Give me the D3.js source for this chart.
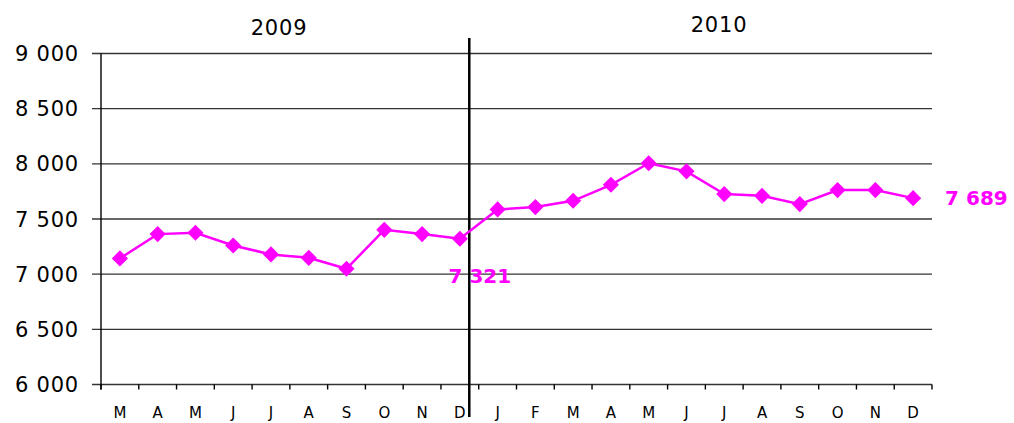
<!DOCTYPE html>
<html>
<head>
<meta charset="utf-8">
<script src="https://cdn.jsdelivr.net/npm/d3@7"></script>
<style>
body { margin: 0; background: #fff; overflow: hidden; }
</style>
</head>
<body>
<div id="chart"></div>
<script>
// months, March 2009 -> December 2010
const months = ["M","A","M","J","J","A","S","O","N","D","J","F","M","A","M","J","J","A","S","O","N","D"];
const values = [7143,7363,7375,7260,7179,7148,7049,7402,7363,7321,7587,7608,7665,7810,8005,7932,7726,7710,7635,7762,7762,7689];
const yTicks = [6000,6500,7000,7500,8000,8500,9000];
const years = ["2009","2010"];

const w = 1014, h = 423;
const padL = 101, padR = 932, padT = 53.5, padB = 384.5;

const svg = d3.select("#chart").append("svg")
  .attr("width", w).attr("height", h)
  .style("display", "block");

const xScale = d3.scaleBand()
  .domain(d3.range(months.length))
  .range([padL, padR]);
const yScale = d3.scaleLinear()
  .domain([6000, 9000])
  .range([padB, padT]);

const fmt = v => d3.format(",")(v).replace(",", " ");

// gridlines + y labels
svg.selectAll(".grid")
  .data(yTicks)
  .enter()
  .append("line")
  .attr("x1", padL - 9).attr("x2", padR)
  .attr("y1", d => yScale(d)).attr("y2", d => yScale(d))
  .attr("stroke", "#333").attr("stroke-width", 1.4);

svg.selectAll(".ylab")
  .data(yTicks)
  .enter()
  .append("text")
  .attr("x", 79)
  .attr("y", d => yScale(d) + 7.5)
  .attr("text-anchor", "end")
  .style("font-family", "'DejaVu Sans', Verdana, sans-serif")
  .style("font-size", "21px")
  .style("letter-spacing", "0.8px")
  .attr("fill", "#000")
  .text(fmt);

// y axis line
svg.append("line")
  .attr("x1", padL).attr("x2", padL)
  .attr("y1", padT).attr("y2", padB + 5)
  .attr("stroke", "#000").attr("stroke-width", 1.4);

// x ticks at band boundaries
const bounds = d3.range(months.length + 1).map(i => padL + i * xScale.step());
svg.selectAll(".xtick")
  .data(bounds)
  .enter()
  .append("line")
  .attr("x1", d => d).attr("x2", d => d)
  .attr("y1", padB).attr("y2", padB + 5)
  .attr("stroke", "#000").attr("stroke-width", 1.4);

svg.selectAll(".xlab")
  .data(months)
  .enter()
  .append("text")
  .attr("x", (d, i) => xScale(i) + xScale.bandwidth() / 2)
  .attr("y", 418)
  .attr("text-anchor", "middle")
  .style("font-family", "'Comic Sans MS', 'DejaVu Sans', sans-serif")
  .style("font-size", "15px")
  .attr("fill", "#000")
  .text(d => d);

// year divider
const divX = xScale(9) + xScale.bandwidth() * 0.75;
svg.append("line")
  .attr("x1", divX).attr("x2", divX)
  .attr("y1", 38).attr("y2", 417)
  .attr("stroke", "#000").attr("stroke-width", 2.5);

svg.selectAll(".year")
  .data(years)
  .enter()
  .append("text")
  .attr("x", (d, i) => i === 0 ? 279 : 719)
  .attr("y", (d, i) => i === 0 ? 35 : 32)
  .attr("text-anchor", "middle")
  .style("font-family", "'DejaVu Sans', Verdana, sans-serif")
  .style("font-size", "21px")
  .style("letter-spacing", "0.8px")
  .attr("fill", "#000")
  .text(d => d);

// series
const cx = i => xScale(i) + xScale.bandwidth() / 2;
const line = d3.line().x((d, i) => cx(i)).y(d => yScale(d));
svg.append("path")
  .datum(values)
  .attr("d", line)
  .attr("fill", "none")
  .attr("stroke", "#ff00ff")
  .attr("stroke-width", 2.5);

const diamond = d3.symbol().type(d3.symbolSquare).size(130);
svg.selectAll(".pt")
  .data(values)
  .enter()
  .append("path")
  .attr("d", diamond)
  .attr("transform", (d, i) => "translate(" + cx(i) + "," + yScale(d) + ") rotate(45)")
  .attr("fill", "#ff00ff");

// value labels
const last = values.length - 1;
svg.append("text")
  .attr("x", cx(9) + 20)
  .attr("y", 283)
  .attr("text-anchor", "middle")
  .style("font-family", "'Comic Sans MS', 'DejaVu Sans', sans-serif")
  .style("font-size", "20px")
  .style("font-weight", "bold")
  .attr("fill", "#ff00ff")
  .text(fmt(values[9]));

svg.append("text")
  .attr("x", cx(last) + 32)
  .attr("y", yScale(values[last]) + 7)
  .style("font-family", "'Comic Sans MS', 'DejaVu Sans', sans-serif")
  .style("font-size", "20px")
  .style("font-weight", "bold")
  .attr("fill", "#ff00ff")
  .text(fmt(values[last]));
</script>
</body>
</html>
